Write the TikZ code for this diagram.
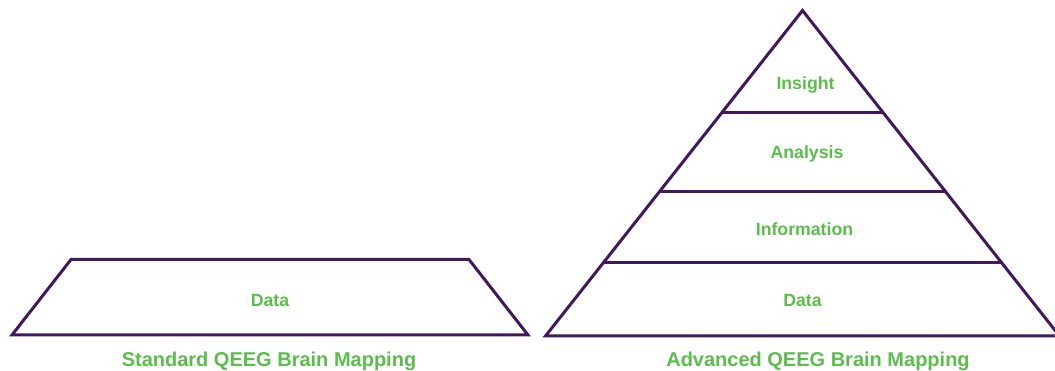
\documentclass[tikz,border=0pt]{standalone}
\usepackage{fontspec}
\setmainfont{Liberation Sans}
\usetikzlibrary{calc}
\definecolor{pyrline}{HTML}{42175E}
\definecolor{pyrtext}{HTML}{5BBD4B}
\tikzset{layer/.style={draw=pyrline, line width=3pt},
  label text/.style={text=pyrtext, font=\bfseries\fontsize{17.7}{20}\selectfont, anchor=base},
  caption text/.style={text=pyrtext, font=\bfseries\fontsize{20}{22}\selectfont, anchor=base}}
\begin{document}
\begin{tikzpicture}[x=1pt, y=-1pt]
\useasboundingbox (0,0) rectangle (1055,371);
% left trapezoid
\draw[layer] (12,335) -- (71,259.5) -- (469,259.5) -- (528,335) -- cycle;
\node[label text] (dataL) at (270,306.5) {Data};
\node[caption text] (capL) at (269,366.5) {Standard QEEG Brain Mapping};
% right pyramid
\coordinate (apex) at (802.5,10.5);
\coordinate (bl) at (545.5,336);
\coordinate (br) at (1059.5,336);
\draw[layer] (apex) -- (bl) -- (br) -- cycle;
\draw[layer] ($(apex)!0.3149!(bl)$) -- ($(apex)!0.3149!(br)$);
\draw[layer] ($(apex)!0.5576!(bl)$) -- ($(apex)!0.5576!(br)$);
\draw[layer] ($(apex)!0.7727!(bl)$) -- ($(apex)!0.7727!(br)$);
\node[label text] (insight) at (805.5,90) {Insight};
\node[label text] (analysis) at (807,159) {Analysis};
\node[label text] (info) at (804.5,236) {Information};
\node[label text] (dataR) at (802.5,306.5) {Data};
\node[caption text] (capR) at (818,366.5) {Advanced QEEG Brain Mapping};
\end{tikzpicture}
\end{document}
